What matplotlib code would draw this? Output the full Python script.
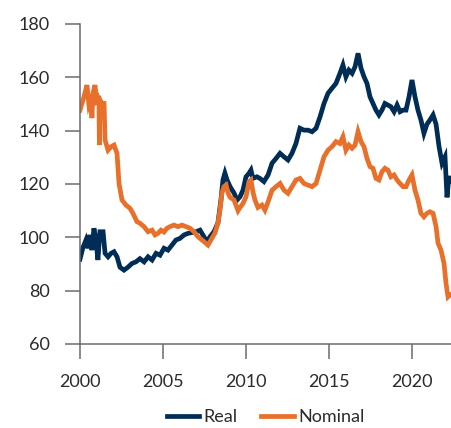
import matplotlib
matplotlib.use("Agg")
from matplotlib import pyplot as plt

# decimal years
real_years = [2000.00, 2000.18, 2000.36, 2000.48, 2000.60, 2000.72, 2000.84, 2000.96, 2001.08, 2001.20,
              2001.39, 2001.51, 2001.69, 2001.87, 2002.05, 2002.23, 2002.41, 2002.65, 2002.89, 2003.13,
              2003.37, 2003.61, 2003.86, 2004.10, 2004.34, 2004.58, 2004.82, 2005.06, 2005.30, 2005.54,
              2005.78, 2006.02, 2006.27, 2006.51, 2006.75, 2006.99, 2007.23, 2007.47, 2007.65, 2007.83,
              2008.07, 2008.31, 2008.49, 2008.61, 2008.73, 2008.86, 2009.04, 2009.28, 2009.46, 2009.64,
              2009.82, 2010.00, 2010.18, 2010.30, 2010.42, 2010.66, 2010.84, 2011.08, 2011.33, 2011.57,
              2011.81, 2012.05, 2012.29, 2012.53, 2012.77, 2013.01, 2013.25, 2013.49, 2013.73, 2013.98,
              2014.22, 2014.46, 2014.70, 2014.94, 2015.18, 2015.42, 2015.66, 2015.84, 2016.02, 2016.20,
              2016.39, 2016.57, 2016.75, 2016.93, 2017.11, 2017.29, 2017.47, 2017.65, 2017.83, 2018.01,
              2018.19, 2018.37, 2018.55, 2018.73, 2018.92, 2019.10, 2019.28, 2019.46, 2019.64, 2019.82,
              2020.00, 2020.18, 2020.36, 2020.54, 2020.72, 2020.90, 2021.08, 2021.27, 2021.45, 2021.63,
              2021.81, 2021.99, 2022.11, 2022.23, 2022.29]
real = [91.8, 96.2, 99.0, 95.9, 100.9, 95.2, 103.4, 99.0, 91.5, 102.1,
        102.1, 94.0, 92.7, 94.0, 94.6, 92.7, 88.8, 87.7, 88.8, 90.2,
        90.8, 92.0, 90.8, 92.7, 91.5, 94.0, 93.3, 95.9, 95.2, 97.1,
        99.0, 99.6, 100.9, 101.5, 101.8, 102.1, 102.7, 100.2, 98.4, 100.2,
        102.1, 105.4, 114.0, 121.5, 124.1, 121.5, 119.0, 116.6, 114.0, 115.2,
        117.7, 122.7, 124.0, 125.2, 122.1, 122.7, 122.1, 120.9, 123.4, 127.8,
        129.6, 131.5, 130.2, 129.0, 131.5, 135.2, 140.9, 140.2, 140.2, 139.6,
        140.9, 145.2, 150.2, 154.0, 155.9, 157.7, 161.5, 164.6, 160.2, 162.7,
        161.5, 164.0, 169.0, 163.4, 160.2, 157.7, 152.7, 150.2, 147.7, 145.9,
        147.7, 150.2, 149.6, 149.0, 147.1, 149.6, 147.1, 147.7, 147.7, 152.7,
        159.0, 152.7, 147.7, 144.0, 139.0, 142.4, 144.0, 145.9, 142.4, 134.0,
        127.8, 130.2, 115.0, 123.0, 121.0]

nominal_years = [2000.00, 2000.12, 2000.24, 2000.42, 2000.54, 2000.66, 2000.72, 2000.78, 2000.90, 2001.02,
                 2001.14, 2001.17, 2001.20, 2001.33, 2001.45, 2001.51, 2001.69, 2001.87, 2002.05, 2002.23,
                 2002.35, 2002.53, 2002.77, 2003.01, 2003.19, 2003.43, 2003.61, 2003.86, 2004.10, 2004.34,
                 2004.52, 2004.70, 2004.88, 2005.06, 2005.24, 2005.42, 2005.66, 2005.90, 2006.14, 2006.39,
                 2006.63, 2006.87, 2007.11, 2007.35, 2007.47, 2007.71, 2007.95, 2008.13, 2008.31, 2008.43,
                 2008.55, 2008.67, 2008.80, 2008.92, 2009.04, 2009.28, 2009.52, 2009.64, 2009.82, 2010.00,
                 2010.18, 2010.30, 2010.42, 2010.54, 2010.72, 2010.96, 2011.14, 2011.33, 2011.57, 2011.81,
                 2012.05, 2012.29, 2012.53, 2012.77, 2013.01, 2013.25, 2013.49, 2013.73, 2013.98, 2014.22,
                 2014.46, 2014.70, 2014.94, 2015.18, 2015.42, 2015.66, 2015.84, 2016.02, 2016.20, 2016.39,
                 2016.57, 2016.75, 2016.93, 2017.11, 2017.29, 2017.47, 2017.65, 2017.83, 2018.01, 2018.19,
                 2018.37, 2018.55, 2018.73, 2018.92, 2019.10, 2019.28, 2019.46, 2019.64, 2019.82, 2020.00,
                 2020.18, 2020.36, 2020.54, 2020.72, 2020.90, 2021.08, 2021.27, 2021.45, 2021.57, 2021.75,
                 2021.93, 2022.05, 2022.17, 2022.29]
nominal = [147.7, 150.2, 152.7, 157.1, 149.6, 151.5, 144.7, 154.0, 157.1, 150.9,
           151.5, 134.6, 151.5, 150.2, 150.2, 136.5, 132.7, 134.0, 134.6, 131.5,
           120.2, 114.0, 112.1, 110.9, 109.0, 105.9, 105.3, 104.0, 102.1, 102.7,
           100.9, 101.5, 102.7, 102.0, 103.4, 104.0, 104.6, 104.0, 104.6, 104.0,
           103.4, 102.1, 100.2, 99.0, 98.4, 97.1, 99.7, 101.6, 105.4, 110.0,
           116.6, 119.0, 119.6, 116.6, 115.0, 114.0, 110.0, 111.2, 112.7, 115.2,
           120.9, 121.5, 117.0, 114.0, 111.2, 112.1, 110.2, 113.3, 117.7, 119.0,
           120.2, 117.7, 116.5, 119.0, 121.5, 122.1, 120.2, 119.6, 119.0, 120.2,
           125.2, 130.2, 132.7, 134.0, 135.9, 135.2, 137.7, 132.7, 134.6, 133.4,
           134.6, 139.6, 135.9, 134.0, 129.6, 126.5, 125.9, 122.1, 121.5, 124.6,
           125.9, 125.2, 122.7, 123.4, 121.5, 120.2, 119.0, 119.0, 121.5, 123.4,
           117.7, 114.0, 109.0, 107.7, 109.0, 109.6, 109.0, 104.0, 97.8, 95.2,
           90.2, 82.7, 77.7, 78.4]

x_ticks = [2000, 2005, 2010, 2015, 2020]
y_ticks = [60, 80, 100, 120, 140, 160, 180]

navy = "#002D56"
orange = "#E8702A"
grey = "#6b6b6b"

plt.rcParams["font.family"] = ["Lato", "DejaVu Sans"]

fig = plt.figure(figsize=(4.51, 4.28), dpi=100)
ax = fig.add_axes([80 / 451, 84 / 428, 371 / 451, 320 / 428])

ax.plot(real_years, real, color=navy, lw=3.4, label="Real", solid_joinstyle="miter")
ax.plot(nominal_years, nominal, color=orange, lw=3.4, label="Nominal", solid_joinstyle="miter")

ax.set_xlim(2000, 2022.35)
ax.set_ylim(60, 180)
ax.set_xticks(x_ticks)
ax.set_yticks(y_ticks)

for side in ["top", "right"]:
    ax.spines[side].set_visible(False)
for side in ["left", "bottom"]:
    ax.spines[side].set_color(grey)
    ax.spines[side].set_linewidth(1.1)

ax.tick_params(axis="both", colors=grey, length=10.5, width=1.1, labelsize=13,
               labelcolor="#2b2b2b", pad=11)

fig.legend(loc="center", bbox_to_anchor=(265.5 / 451, 11 / 428), ncol=2, frameon=False,
           fontsize=13, handlelength=1.8, handletextpad=0.25, columnspacing=1.3,
           labelcolor="#2b2b2b")

fig.savefig("out.png", dpi=100)
